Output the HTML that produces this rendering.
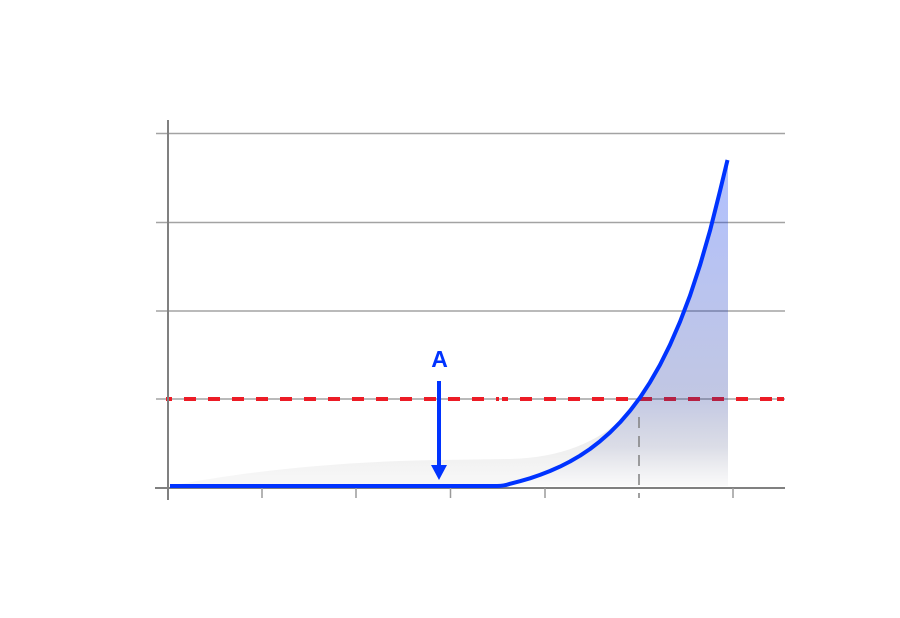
<!DOCTYPE html>
<html>
<head>
<meta charset="utf-8">
<style>
  html, body { margin: 0; padding: 0; background: #ffffff; }
  body { width: 900px; height: 618px; overflow: hidden; }
  svg { display: block; }
</style>
</head>
<body>
<svg width="900" height="618" viewBox="0 0 900 618" xmlns="http://www.w3.org/2000/svg">
  <defs>
    <linearGradient id="fillg" x1="0" y1="160" x2="0" y2="486" gradientUnits="userSpaceOnUse">
      <stop offset="0" stop-color="#0033ff" stop-opacity="0.31"/>
      <stop offset="0.72" stop-color="#1a2f99" stop-opacity="0.27"/>
      <stop offset="0.88" stop-color="#2a3570" stop-opacity="0.17"/>
      <stop offset="1" stop-color="#555566" stop-opacity="0.03"/>
    </linearGradient>
    <linearGradient id="shadg" x1="0" y1="415" x2="0" y2="486" gradientUnits="userSpaceOnUse">
      <stop offset="0" stop-color="#e7e7e7"/>
      <stop offset="1" stop-color="#f8f8f8"/>
    </linearGradient>
  </defs>

  <!-- gridlines -->
  <g stroke="#a3a3a3" stroke-width="1.5">
    <line x1="156" y1="133.5" x2="785" y2="133.5"/>
    <line x1="156" y1="222.5" x2="785" y2="222.5"/>
    <line x1="156" y1="311" x2="785" y2="311"/>
    <line x1="156" y1="399" x2="785" y2="399"/>
  </g>

  <!-- shadow shape -->
  <path d="M170,486 C250,470 350,461 440,460 L510,459 C560,458 598,442 624,417 L630,411 L620,422.4 L610,432.5 L600,441.3 L590,449 L580,455.7 L570,461.5 L560,466.6 L550,471 L540,474.9 L530,478.3 L520,481.2 L510,483.8 L500,486 Z" fill="url(#shadg)"/>

  <!-- red dashed threshold -->
  <line x1="166" y1="399" x2="499" y2="399" stroke="#ec1c26" stroke-width="4" stroke-dasharray="12 12" stroke-dashoffset="6"/>
  <line x1="502" y1="399" x2="772" y2="399" stroke="#ec1c26" stroke-width="4" stroke-dasharray="12 12" stroke-dashoffset="6"/>
  <line x1="777" y1="399" x2="784" y2="399" stroke="#ec1c26" stroke-width="4"/>

  <!-- blue fill under curve -->
  <path d="M500,486 L510,483.8 L520,481.2 L530,478.3 L540,474.9 L550,471 L560,466.6 L570,461.5 L580,455.7 L590,449 L600,441.3 L610,432.5 L620,422.4 L630,410.8 L640,397.6 L650,382.3 L660,364.9 L670,344.8 L680,321.8 L690,295.6 L700,265.3 L710,230.7 L720,191 L728,160 L728,486 Z" fill="url(#fillg)"/>

  <!-- vertical dashed line -->
  <line x1="639" y1="417" x2="639" y2="498" stroke="#808080" stroke-width="1.5" stroke-dasharray="11 8"/>

  <!-- axes -->
  <g stroke="#808080" stroke-width="2">
    <line x1="168" y1="120" x2="168" y2="500"/>
    <line x1="155" y1="488" x2="785" y2="488"/>
  </g>
  <g stroke="#9a9a9a" stroke-width="1.5">
    <line x1="262" y1="488" x2="262" y2="498"/>
    <line x1="356" y1="488" x2="356" y2="498"/>
    <line x1="450.5" y1="488" x2="450.5" y2="498"/>
    <line x1="545" y1="488" x2="545" y2="498"/>
    <line x1="733" y1="488" x2="733" y2="498"/>
  </g>

  <!-- blue curve -->
  <path d="M170,486 L497,486 C503,486 506,485.3 510,483.8 L520,481.2 L530,478.3 L540,474.9 L550,471 L560,466.6 L570,461.5 L580,455.7 L590,449 L600,441.3 L610,432.5 L620,422.4 L630,410.8 L640,397.6 L650,382.3 L660,364.9 L670,344.8 L680,321.8 L690,295.6 L700,265.3 L710,230.7 L720,191 L727.5,160"
        fill="none" stroke="#0033ff" stroke-width="4" stroke-linejoin="round"/>

  <!-- annotation A -->
  <text x="439.5" y="367" text-anchor="middle" font-family="Liberation Sans, sans-serif" font-size="23" font-weight="bold" fill="#0033ff">A</text>
  <line x1="439" y1="381" x2="439" y2="467" stroke="#0033ff" stroke-width="4"/>
  <polygon points="431,465 447,465 439,480" fill="#0033ff"/>
</svg>
</body>
</html>
